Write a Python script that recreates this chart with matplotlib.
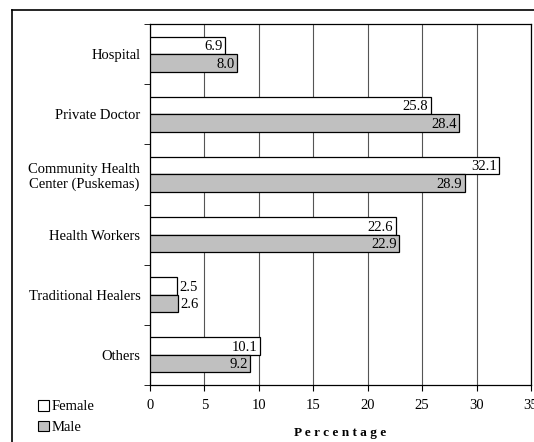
import numpy as np
import matplotlib.pyplot as plt
from matplotlib.patches import Patch
from matplotlib.lines import Line2D

plt.rcParams['font.family'] = ['Liberation Serif', 'DejaVu Serif']

# data
categories = ["Hospital", "Private Doctor", "Community Health\nCenter (Puskemas)",
              "Health Workers", "Traditional Healers", "Others"]
female = [6.9, 25.8, 32.1, 22.6, 2.5, 10.1]
male = [8.0, 28.4, 28.9, 22.9, 2.6, 9.2]
x_ticks = [0, 5, 10, 15, 20, 25, 30, 35]

fs = 10.5
fig = plt.figure(figsize=(5.34, 4.42), dpi=100)
ax = fig.add_axes([150 / 534, 57 / 442, 381 / 534, 361 / 442])

# outer frame (cut off at right and bottom like the reference)
fig.add_artist(Line2D([12 / 534, 12 / 534], [0, 1 - 10 / 442], color='black', lw=1.2,
                      transform=fig.transFigure))
fig.add_artist(Line2D([12 / 534, 1], [1 - 10 / 442, 1 - 10 / 442], color='black', lw=1.2,
                      transform=fig.transFigure))

y = np.arange(len(categories))
h = 0.29
ax.barh(y - h / 2, female, height=h, color='white', edgecolor='black', lw=0.9, zorder=3)
ax.barh(y + h / 2, male, height=h, color='#c0c0c0', edgecolor='black', lw=0.9, zorder=3)

# value labels
for vals, off in [(female, -h / 2), (male, h / 2)]:
    for i, v in enumerate(vals):
        if v < 4:
            ax.text(v + 0.2, i + off + 0.02, f"{v:.1f}", ha='left', va='center',
                    fontsize=fs, zorder=4)
        else:
            ax.text(v - 0.25, i + off + 0.02, f"{v:.1f}", ha='right', va='center',
                    fontsize=fs, zorder=4)

ax.set_xlim(0, 35)
ax.set_ylim(len(categories) - 0.5, -0.5)
ax.set_xticks(x_ticks)
ax.set_xticklabels([str(t) for t in x_ticks], fontsize=fs)
ax.set_yticks(y)
ax.set_yticklabels(categories, fontsize=fs, multialignment='center')
ax.set_yticks(np.arange(len(categories) + 1) - 0.5, minor=True)
ax.tick_params(axis='y', which='major', length=0, pad=7)
ax.tick_params(axis='y', which='minor', length=4, direction='out')
ax.tick_params(axis='x', length=4, direction='out', pad=6)
ax.grid(axis='x', color='#555555', lw=0.8, zorder=0)
for s in ax.spines.values():
    s.set_linewidth(0.9)

ax.set_xlabel("P e r c e n t a g e", fontsize=9.5, fontweight='bold', labelpad=11)

handles = [Patch(facecolor='white', edgecolor='black', lw=0.8),
           Patch(facecolor='#c0c0c0', edgecolor='black', lw=0.8)]
fig.legend(handles, ["Female", "Male"], loc='upper left',
           bbox_to_anchor=(32 / 534, 1 - 394 / 442), frameon=False, fontsize=fs,
           handlelength=0.75, handleheight=0.75, handletextpad=0.2, labelspacing=0.5,
           borderaxespad=0)

fig.savefig("out.png", dpi=100)
